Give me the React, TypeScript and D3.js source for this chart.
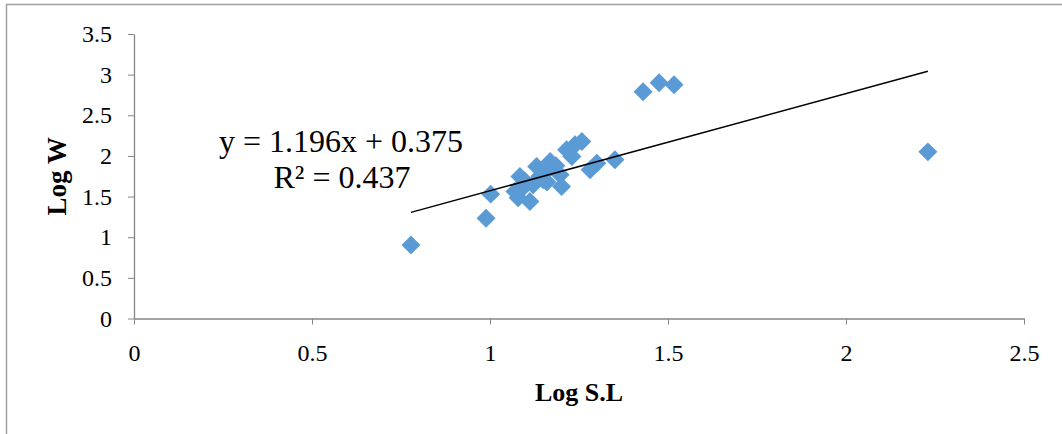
import React from 'react';
import { scaleLinear, axisLeft, axisBottom, select, symbol, symbolSquare, line } from 'd3';

const xValues = [0.778, 0.989, 1.002, 1.07, 1.079, 1.084, 1.09, 1.095, 1.103, 1.112, 1.121, 1.131, 1.14, 1.149, 1.154, 1.16, 1.169, 1.185, 1.197, 1.201, 1.215, 1.23, 1.239, 1.258, 1.281, 1.3, 1.351, 1.43, 1.475, 1.517, 2.23];
const yValues = [0.905, 1.234, 1.53, 1.562, 1.484, 1.746, 1.6, 1.7, 1.665, 1.438, 1.644, 1.869, 1.75, 1.706, 1.792, 1.68, 1.931, 1.88, 1.767, 1.623, 2.075, 1.993, 2.137, 2.177, 1.829, 1.911, 1.952, 2.79, 2.9, 2.876, 2.05];
const xTicks = [0, 0.5, 1, 1.5, 2, 2.5];
const yTicks = [0, 0.5, 1, 1.5, 2, 2.5, 3, 3.5];
const slope = 1.196;
const intercept = 0.375;
const trendRange = [0.778, 2.23];

const dims = {
  width: 1062,
  height: 434,
  left: 134,
  right: 1024,
  top: 34,
  bottom: 318.5,
};

const App: React.FC = () => {
  const svgRef = React.useRef<SVGSVGElement>(null);

  const x = scaleLinear().domain([0, 2.5]).range([dims.left, dims.right]);
  const y = scaleLinear().domain([0, 3.5]).range([dims.bottom, dims.top]);

  React.useEffect(() => {
    const svg = select(svgRef.current);
    svg.selectAll('*').remove();

    svg.append('rect')
      .attr('x', 6.5).attr('y', 4.5)
      .attr('width', 1070).attr('height', 440)
      .attr('fill', 'white').attr('stroke', '#a0a0a0').attr('stroke-width', 1.5);

    const font = '"Liberation Serif", "Times New Roman", serif';

    const xAxis = axisBottom(x).tickValues(xTicks).tickSize(6).tickSizeOuter(0).tickFormat(d => `${d}`);
    const yAxis = axisLeft(y).tickValues(yTicks).tickSize(6).tickSizeOuter(0).tickFormat(d => `${d}`);

    const gx = svg.append('g')
      .attr('transform', `translate(0, ${dims.bottom})`)
      .call(xAxis);
    gx.select('.domain').attr('stroke', '#868686').attr('stroke-width', 1.3);
    gx.selectAll('.tick line').attr('stroke', '#868686');
    gx.selectAll('.tick text')
      .attr('font-family', font).attr('font-size', 24).attr('fill', 'black')
      .attr('dy', null).attr('y', 42);

    const gy = svg.append('g')
      .attr('transform', `translate(${dims.left}, 0)`)
      .call(yAxis);
    gy.select('.domain').attr('stroke', '#868686').attr('stroke-width', 1.3);
    gy.selectAll('.tick line').attr('stroke', '#868686');
    gy.selectAll('.tick text')
      .attr('font-family', font).attr('font-size', 24).attr('fill', 'black')
      .attr('x', -22).attr('dy', '0.32em');

    const pts = xValues.map((v, i) => ({ x: v, y: yValues[i] }));
    const sym = symbol().type(symbolSquare).size(180);
    svg.append('g')
      .selectAll('path')
      .data(pts)
      .join('path')
      .attr('d', sym())
      .attr('fill', '#5B9BD5')
      .attr('transform', d => `translate(${x(d.x)}, ${y(d.y)}) rotate(45)`);

    const trend = line<number>()
      .x(d => x(d))
      .y(d => y(slope * d + intercept));
    svg.append('path')
      .attr('d', trend(trendRange))
      .attr('fill', 'none')
      .attr('stroke', 'black')
      .attr('stroke-width', 1.5);

    svg.append('text')
      .attr('x', 341).attr('y', 152)
      .attr('text-anchor', 'middle')
      .attr('font-family', font).attr('font-size', 32)
      .text(`y = ${slope}x + ${intercept}`);
    svg.append('text')
      .attr('x', 342).attr('y', 188)
      .attr('text-anchor', 'middle')
      .attr('font-family', font).attr('font-size', 32)
      .text('R² = 0.437');

    svg.append('text')
      .attr('x', (dims.left + dims.right) / 2).attr('y', 401)
      .attr('text-anchor', 'middle')
      .attr('font-family', font).attr('font-size', 26).attr('font-weight', 'bold')
      .text('Log S.L');
    svg.append('text')
      .attr('transform', `translate(66, ${(dims.top + dims.bottom) / 2}) rotate(-90)`)
      .attr('text-anchor', 'middle')
      .attr('font-family', font).attr('font-size', 27).attr('font-weight', 'bold')
      .text('Log W');
  }, []);

  return (
    <svg
      ref={svgRef}
      width={dims.width}
      height={dims.height}
      style={{ position: 'absolute', left: 0, top: 0, background: 'white' }}
    />
  );
};

export default App;
